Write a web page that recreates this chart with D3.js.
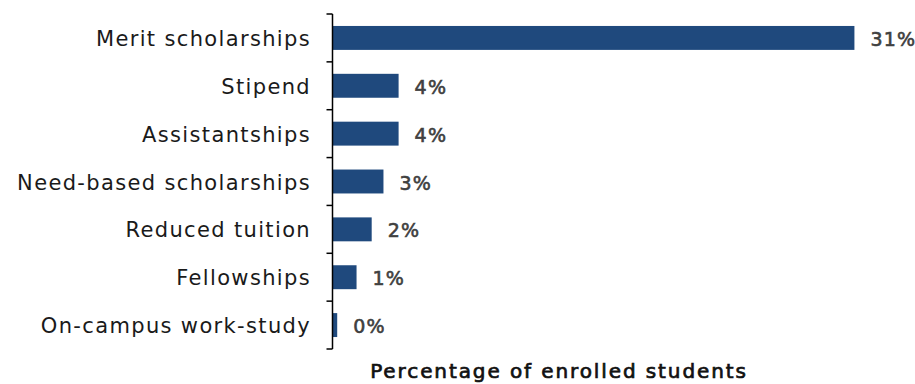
<!DOCTYPE html>
<html><head><meta charset="utf-8">
<script src="https://cdn.jsdelivr.net/npm/d3@7"></script>
<style>body{margin:0;background:#fff}</style>
</head><body><svg id="c" width="915" height="384"></svg>
<script>
const categories = ["Merit scholarships","Stipend","Assistantships","Need-based scholarships","Reduced tuition","Fellowships","On-campus work-study"];
const values = [31.0, 3.9, 3.9, 3.0, 2.3, 1.4, 0.25];
const valueLabels = ["31%","4%","4%","3%","2%","1%","0%"];
const axisTitle = "Percentage of enrolled students";

const svg = d3.select("#c");
const x0 = 333, pxPerPct = 16.82;
const x = d3.scaleLinear().domain([0, 31]).range([x0, x0 + 31*pxPerPct]);
const y = d3.scaleBand().domain(categories).range([14, 349]).paddingInner(0.5).paddingOuter(0.25);

// bars
svg.selectAll("rect.bar").data(values).join("rect")
  .attr("x", x(0)).attr("y", (d,i)=>y(categories[i]))
  .attr("width", d=>x(d)-x(0)).attr("height", y.bandwidth())
  .attr("fill", "#1f497d");

// axis
const ax = d3.scaleBand().domain(categories).range([14, 349]);
const g = svg.append("g").attr("transform", `translate(${x0-0.5},0)`);
g.append("line").attr("x1",0).attr("x2",0).attr("y1",14).attr("y2",349).attr("stroke","#000").attr("stroke-width",1.5);
const tickYs = categories.map(c=>ax(c)).concat([349]);
g.selectAll("line.t").data(tickYs).join("line").attr("class","t")
  .attr("x1",-6).attr("x2",0).attr("y1",d=>d).attr("y2",d=>d).attr("stroke","#000").attr("stroke-width",1.5);

svg.selectAll("text.cat").data(categories).join("text").attr("class","cat")
  .attr("x", 311).attr("y", c=>ax(c)+ax.bandwidth()/2+1)
  .attr("text-anchor","end").attr("dominant-baseline","central")
  .attr("font-family","DejaVu Sans").attr("font-size",21).attr("letter-spacing",1.35).attr("fill","#1a1a1a")
  .text(d=>d);

svg.selectAll("text.val").data(values).join("text").attr("class","val")
  .attr("x", d=>x(d)+16).attr("y", (d,i)=>y(categories[i])+y.bandwidth()/2+1)
  .attr("dominant-baseline","central")
  .attr("font-family","DejaVu Sans").attr("font-size",19).attr("letter-spacing",1.2)
  .attr("fill","#404040").attr("stroke","#404040").attr("stroke-width",0.6)
  .text((d,i)=>valueLabels[i]);

svg.append("text").attr("x",559).attr("y",371).attr("text-anchor","middle").attr("dominant-baseline","central")
  .attr("font-family","DejaVu Sans").attr("font-size",20).attr("letter-spacing",1.9)
  .attr("fill","#111").attr("stroke","#111").attr("stroke-width",0.7)
  .text(axisTitle);
</script></body></html>
